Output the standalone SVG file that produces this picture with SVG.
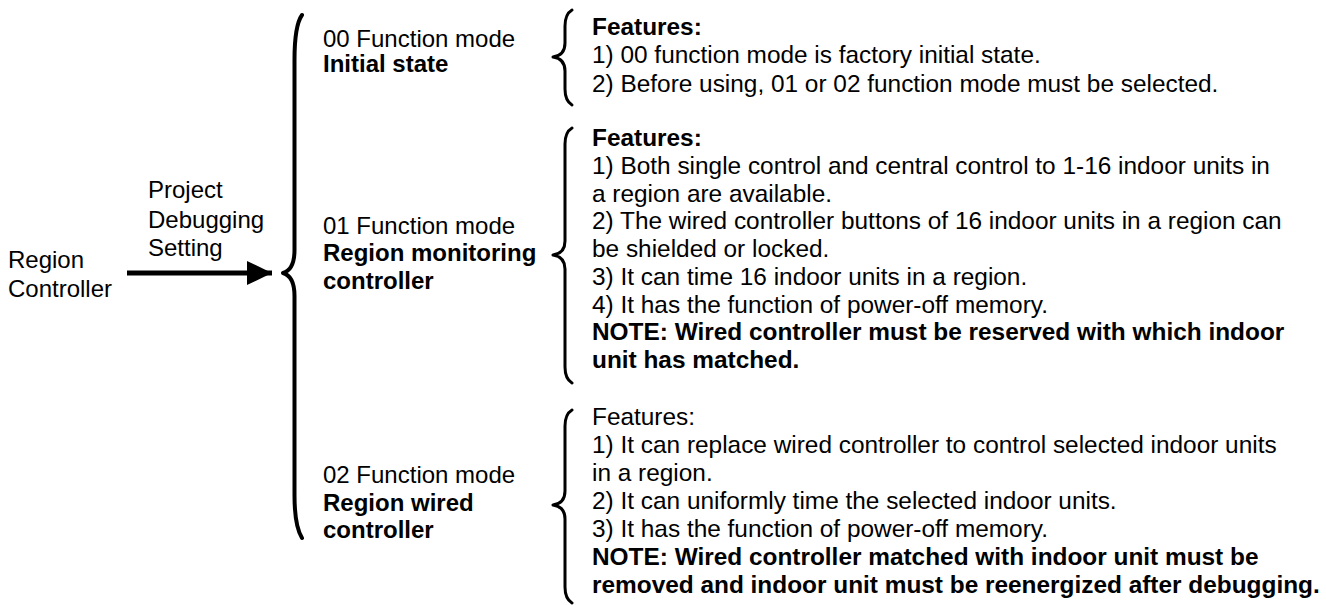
<svg xmlns="http://www.w3.org/2000/svg" width="1326" height="605" viewBox="0 0 1326 605">
<style>
text{font-family:"Liberation Sans",Arial,sans-serif;font-size:24px;fill:#000}
.r{font-size:24.4px}
.b{font-weight:bold}
.brace{fill:none;stroke:#000;stroke-width:3;stroke-linecap:round;stroke-linejoin:round}
.big{stroke-width:4}
</style>
<defs>
<marker id="ah" viewBox="0 0 25 24" refX="25" refY="12" markerWidth="25" markerHeight="24" markerUnits="userSpaceOnUse" orient="auto">
<path d="M0,0 L25,12 L0,24 Z" fill="#000"/>
</marker>
</defs>
<rect width="1326" height="605" fill="#fff"/>
<g id="region-controller">
<text x="8" y="268">Region</text>
<text x="8" y="297">Controller</text>
</g>
<g id="connectors">
<path d="M127,273 L272,273" stroke="#000" stroke-width="5" fill="none" marker-end="url(#ah)"/>
<text x="148" y="198">Project</text>
<text x="148" y="228">Debugging</text>
<text x="148" y="256">Setting</text>
<path class="brace big" d="M302,15 C297,22 294.5,40 294.5,60 L294.5,250 C294.5,264 290,271 283,273 C290,275 294.5,282 294.5,296 L294.5,495 C294.5,515 297,530 302,538"/>
<path class="brace" d="M572,10 C567,13 565,18 565,26 L565,43 C565,52 560,56 553,57 C560,58 565,62 565,71 L565,89 C565,97 567,102 572,105"/>
<path class="brace" d="M572,128 C567,131 565,136 565,144 L565,241 C565,250 560,254 553,255 C560,256 565,260 565,269 L565,367 C565,375 567,380 572,383"/>
<path class="brace" d="M572,410 C567,413 565,418 565,426 L565,491 C565,500 560,504 553,505 C560,506 565,510 565,519 L565,587 C565,595 567,600 572,603"/>
</g>
<g id="mode-00">
<text x="323" y="47">00 Function mode</text>
<text x="323" y="72" class="b">Initial state</text>
</g>
<g id="mode-01">
<text x="323" y="234">01 Function mode</text>
<text x="323" y="261" class="b">Region monitoring</text>
<text x="323" y="289" class="b">controller</text>
</g>
<g id="mode-02">
<text x="323" y="483">02 Function mode</text>
<text x="323" y="511" class="b">Region wired</text>
<text x="323" y="538" class="b">controller</text>
</g>
<g id="features-00">
<text x="592" y="34.5" class="r b">Features:</text>
<text x="592" y="63" class="r">1) 00 function mode is factory initial state.</text>
<text x="592" y="91.5" class="r">2) Before using, 01 or 02 function mode must be selected.</text>
</g>
<g id="features-01">
<text x="592" y="146" class="r b">Features:</text>
<text x="592" y="173.75" class="r">1) Both single control and central control to 1-16 indoor units in</text>
<text x="592" y="201.5" class="r">a region are available.</text>
<text x="592" y="229.25" class="r">2) The wired controller buttons of 16 indoor units in a region can</text>
<text x="592" y="257" class="r">be shielded or locked.</text>
<text x="592" y="284.75" class="r">3) It can time 16 indoor units in a region.</text>
<text x="592" y="312.5" class="r">4) It has the function of power-off memory.</text>
<text x="592" y="340.25" class="r b">NOTE: Wired controller must be reserved with which indoor</text>
<text x="592" y="368" class="r b">unit has matched.</text>
</g>
<g id="features-02">
<text x="592" y="425" class="r">Features:</text>
<text x="592" y="453" class="r">1) It can replace wired controller to control selected indoor units</text>
<text x="592" y="481" class="r">in a region.</text>
<text x="592" y="509" class="r">2) It can uniformly time the selected indoor units.</text>
<text x="592" y="537" class="r">3) It has the function of power-off memory.</text>
<text x="592" y="565" class="r b">NOTE: Wired controller matched with indoor unit must be</text>
<text x="592" y="593" class="r b">removed and indoor unit must be reenergized after debugging.</text>
</g>
</svg>
